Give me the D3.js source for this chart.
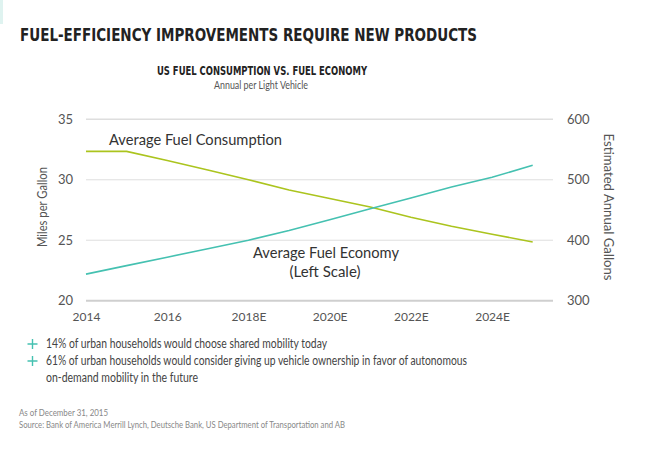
<!DOCTYPE html>
<html>
<head>
<meta charset="utf-8">
<script src="https://cdn.jsdelivr.net/npm/d3@7"></script>
<style>
body { margin: 0; background: #fff; }
svg { display: block; }
text { font-family: Lato, "Open Sans", sans-serif; }
.cond { font-family: "DejaVu Sans", sans-serif; font-stretch: condensed; font-weight: bold; }
</style>
</head>
<body>
<div id="chart"></div>
<script>
// chart data
var years = [2014, 2015, 2016, 2017, 2018, 2019, 2020, 2021, 2022, 2023, 2024, 2025];
var fuelEconomy = [22.2, 22.9, 23.6, 24.3, 25.0, 25.8, 26.7, 27.6, 28.5, 29.4, 30.2, 31.2];
var fuelConsumption = [547, 547, 532, 516, 500, 483, 469, 455, 438, 423, 410, 397];
var xTicks = [2014, 2016, 2018, 2020, 2022, 2024];
var xTickLabels = ['2014', '2016', '2018E', '2020E', '2022E', '2024E'];
var leftTicks = [20, 25, 30, 35];
var rightTicks = [300, 400, 500, 600];
var bullets = [
	[['14% of urban households would choose shared mobility today', 281]],
	[['61% of urban households would consider giving up vehicle ownership in favor of autonomous', 421],
	 ['on-demand mobility in the future', 152]]
];

var W = 651, H = 454;
var teal = '#45c1b1', lime = '#abc41e';

var svg = d3.select('#chart').append('svg').attr('width', W).attr('height', H);

svg.append('rect').attr('x', 0).attr('y', 0).attr('width', 3).attr('height', 24).attr('fill', '#dff3f0');

svg.append('text').attr('class', 'cond')
	.attr('x', 20).attr('y', 40.5)
	.attr('font-size', 18.5).attr('fill', '#222')
	.attr('textLength', 457).attr('lengthAdjust', 'spacingAndGlyphs')
	.text('FUEL-EFFICIENCY IMPROVEMENTS REQUIRE NEW PRODUCTS');

svg.append('text').attr('class', 'cond')
	.attr('x', 157).attr('y', 74.5)
	.attr('font-size', 13).attr('fill', '#222')
	.attr('textLength', 210).attr('lengthAdjust', 'spacingAndGlyphs')
	.text('US FUEL CONSUMPTION VS. FUEL ECONOMY');

svg.append('text')
	.attr('x', 214).attr('y', 89)
	.attr('font-size', 10.5).attr('fill', '#555')
	.attr('textLength', 94).attr('lengthAdjust', 'spacingAndGlyphs')
	.text('Annual per Light Vehicle');

var x = d3.scaleLinear().domain([2014, 2025.5]).range([86, 553]);
var yL = d3.scaleLinear().domain([20, 35]).range([300.7, 119.3]);
var yR = d3.scaleLinear().domain([300, 600]).range([300.7, 119.3]);

// gridlines
svg.append('g').selectAll('line').data(leftTicks).enter().append('line')
	.attr('x1', 86).attr('x2', 553)
	.attr('y1', function (d) { return yL(d); })
	.attr('y2', function (d) { return yL(d); })
	.attr('stroke', function (d) { return d === 20 ? '#cfcfcf' : '#dedede'; })
	.attr('stroke-width', function (d) { return d === 20 ? 2 : (d === 35 ? 1.5 : 1); });

var leftAxis = svg.append('g').attr('transform', 'translate(86,0)')
	.call(d3.axisLeft(yL).tickValues(leftTicks).tickSize(0).tickPadding(13));
var rightAxis = svg.append('g').attr('transform', 'translate(553,0)')
	.call(d3.axisRight(yR).tickValues(rightTicks).tickSize(0).tickPadding(14));
var bottomAxis = svg.append('g').attr('transform', 'translate(0,302)')
	.call(d3.axisBottom(x).tickValues(xTicks).tickSize(0).tickPadding(10)
		.tickFormat(function (d, i) { return xTickLabels[i]; }));

[leftAxis, rightAxis, bottomAxis].forEach(function (g) {
	g.select('.domain').remove();
	g.selectAll('text').attr('font-family', 'Lato, sans-serif').attr('font-size', 13).attr('fill', '#555');
});
bottomAxis.selectAll('text').attr('font-size', 12);

svg.append('text')
	.attr('transform', 'translate(47,207) rotate(-90)')
	.attr('text-anchor', 'middle').attr('font-size', 12.5).attr('fill', '#555')
	.attr('textLength', 80).attr('lengthAdjust', 'spacingAndGlyphs')
	.text('Miles per Gallon');
svg.append('text')
	.attr('transform', 'translate(604,207) rotate(90)')
	.attr('text-anchor', 'middle').attr('font-size', 13).attr('fill', '#555')
	.attr('textLength', 147).attr('lengthAdjust', 'spacingAndGlyphs')
	.text('Estimated Annual Gallons');

var lineL = d3.line().x(function (d, i) { return x(years[i]); }).y(function (d) { return yL(d); });
var lineR = d3.line().x(function (d, i) { return x(years[i]); }).y(function (d) { return yR(d); });

svg.append('path').datum(fuelConsumption).attr('d', lineR)
	.attr('fill', 'none').attr('stroke', lime).attr('stroke-width', 1.6);
svg.append('path').datum(fuelEconomy).attr('d', lineL)
	.attr('fill', 'none').attr('stroke', teal).attr('stroke-width', 1.6);

svg.append('text')
	.attr('x', 109).attr('y', 145).attr('font-size', 15).attr('fill', '#333')
	.attr('textLength', 173).attr('lengthAdjust', 'spacingAndGlyphs')
	.text('Average Fuel Consumption');
svg.append('text')
	.attr('x', 253).attr('y', 258).attr('font-size', 15).attr('fill', '#333')
	.attr('textLength', 146).attr('lengthAdjust', 'spacingAndGlyphs')
	.text('Average Fuel Economy');
svg.append('text')
	.attr('x', 325).attr('y', 277).attr('text-anchor', 'middle').attr('font-size', 15).attr('fill', '#333')
	.text('(Left Scale)');

// bullets, with a drawn plus mark
var by = 348;
bullets.forEach(function (lines) {
	var cy = by - 4;
	svg.append('path')
		.attr('d', 'M27.5,' + cy + 'H37.5M32.5,' + (cy - 5) + 'V' + (cy + 5))
		.attr('stroke', teal).attr('stroke-width', 1.4).attr('fill', 'none');
	lines.forEach(function (ln) {
		svg.append('text').attr('x', 46).attr('y', by).attr('font-size', 12.5).attr('fill', '#444')
			.attr('textLength', ln[1]).attr('lengthAdjust', 'spacingAndGlyphs')
			.text(ln[0]);
		by += 17;
	});
});

svg.append('text').attr('x', 19).attr('y', 416).attr('font-size', 9.5).attr('fill', '#888')
	.attr('textLength', 89).attr('lengthAdjust', 'spacingAndGlyphs')
	.text('As of December 31, 2015');
svg.append('text').attr('x', 19).attr('y', 428).attr('font-size', 9.5).attr('fill', '#888')
	.attr('textLength', 326).attr('lengthAdjust', 'spacingAndGlyphs')
	.text('Source: Bank of America Merrill Lynch, Deutsche Bank, US Department of Transportation and AB');
</script>
</body>
</html>
